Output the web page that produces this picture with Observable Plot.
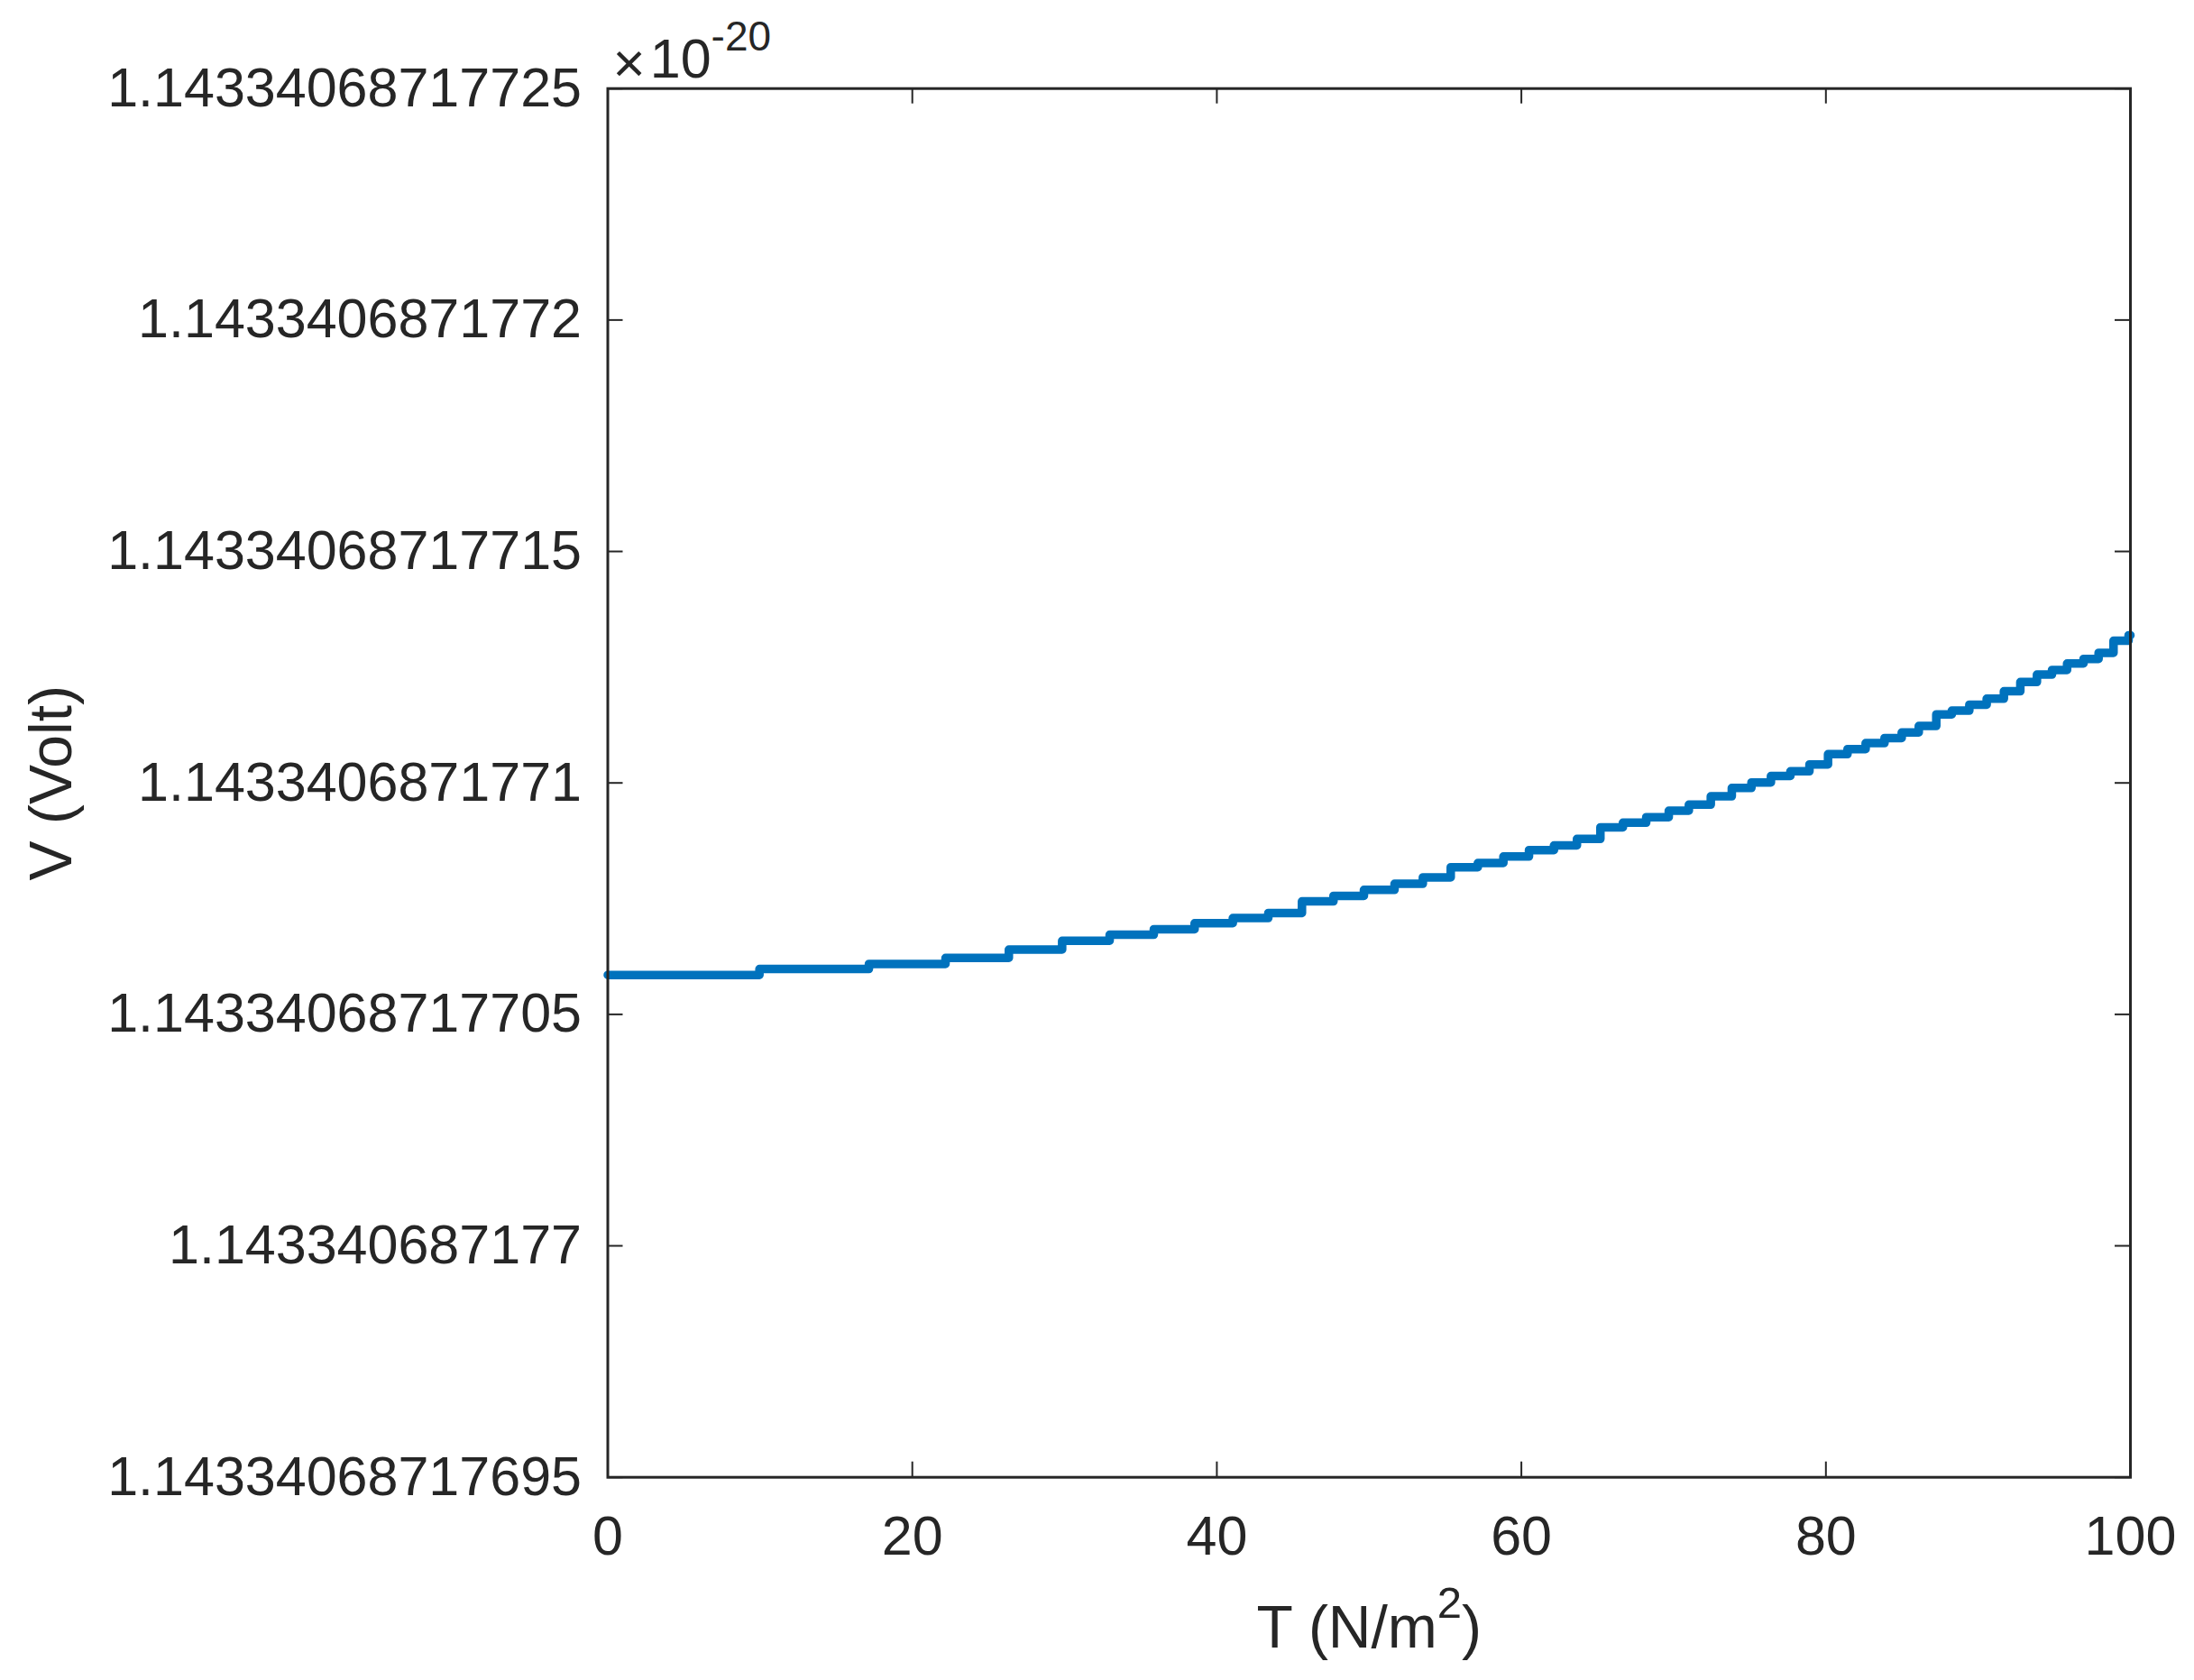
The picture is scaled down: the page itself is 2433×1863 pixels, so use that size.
<!DOCTYPE html>
<html>
<head>
<meta charset="utf-8">
<script src="https://cdn.jsdelivr.net/npm/d3@7"></script>
<script src="https://cdn.jsdelivr.net/npm/@observablehq/plot@0.6"></script>
<style>
  html, body { margin: 0; padding: 0; background: #ffffff; }
  #chart svg { display: block; }
</style>
</head>
<body>
<div id="chart"></div>
<script>
// T (N/m^2) at which each level of the stepped curve begins
const stepT = [
  0, 9.96, 17.15, 22.18, 26.34, 29.84, 32.96, 35.86, 38.54, 41.05,
  43.38, 45.59, 47.66, 49.66, 51.67, 53.53, 55.36, 57.14, 58.82, 60.50,
  62.14, 63.65, 65.19, 66.67, 68.20, 69.68, 71.00, 72.44, 73.82, 75.11,
  76.39, 77.67, 78.92, 80.14, 81.42, 82.61, 83.85, 84.98, 86.10, 87.25,
  88.27, 89.42, 90.56, 91.69, 92.77, 93.86, 94.85, 95.84, 96.92, 97.91,
  98.89, 99.88
];
// V for each level, as offset v where V = 1.14334068717e-20 + v * 1e-34 (Volt)
const stepV = [
  705.85, 705.98, 706.09, 706.22, 706.40, 706.59, 706.72, 706.84, 706.97, 707.08,
  707.19, 707.44, 707.56, 707.69, 707.82, 707.96, 708.18, 708.27, 708.41, 708.55,
  708.65, 708.79, 709.04, 709.14, 709.26, 709.40, 709.53, 709.71, 709.89, 710.01,
  710.15, 710.25, 710.40, 710.62, 710.73, 710.86, 710.97, 711.09, 711.23, 711.48,
  711.56, 711.69, 711.82, 711.98, 712.18, 712.34, 712.44, 712.58, 712.68, 712.81,
  713.07, 713.19
];
const tEnd = 100;

const xTicks = [0, 20, 40, 60, 80, 100];
const yTicks = [695, 700, 705, 710, 715, 720, 725];
const yTickLabels = [
  "1.14334068717695",
  "1.143340687177",
  "1.14334068717705",
  "1.1433406871771",
  "1.14334068717715",
  "1.1433406871772",
  "1.14334068717725"
];
const xLabelMain = "T (N/m";
const xLabelSup = "2";
const xLabelEnd = ")";
const yLabel = "V (Volt)";
const exponentTimes = "×";
const exponentBase = "10";
const exponentPower = "-20";

const points = stepT.map((t, i) => ({T: t, v: stepV[i]}));
points.push({T: tEnd, v: stepV[stepV.length - 1]});

const W = 2433, H = 1863;
const mL = 673.5, mR = 71, mT = 97.7, mB = 225.3;
const FW = W - mL - mR, FH = H - mT - mB;
const tickLen = 17;
const ink = "#262626";

const chart = Plot.plot({
  width: W,
  height: H,
  marginLeft: mL,
  marginRight: mR,
  marginTop: mT,
  marginBottom: mB,
  x: {domain: [0, 100]},
  y: {domain: [695, 725]},
  style: {
    fontFamily: "'Liberation Sans', Arial, Helvetica, sans-serif",
    fontSize: "61px",
    color: ink,
    background: "#ffffff"
  },
  marks: [
    Plot.line(points, {
      x: "T", y: "v", curve: "step-after",
      stroke: "#0072BD", strokeWidth: 9.5,
      strokeLinejoin: "round", strokeLinecap: "round"
    }),
    Plot.tickX(xTicks, {x: d => d, insetTop: FH - tickLen, stroke: ink, strokeWidth: 2}),
    Plot.tickX(xTicks, {x: d => d, insetBottom: FH - tickLen, stroke: ink, strokeWidth: 2}),
    Plot.tickY(yTicks, {y: d => d, insetRight: FW - tickLen, stroke: ink, strokeWidth: 2}),
    Plot.tickY(yTicks, {y: d => d, insetLeft: FW - tickLen, stroke: ink, strokeWidth: 2}),
    Plot.frame({stroke: ink, strokeWidth: 3}),
    Plot.axisX({
      ticks: xTicks, tickSize: 0, tickPadding: 42,
      label: xLabelMain + xLabelSup + xLabelEnd, labelAnchor: "center", labelOffset: 189, labelArrow: "none"
    }),
    Plot.axisY({
      ticks: yTicks, tickSize: 0, tickPadding: 29,
      tickFormat: d => yTickLabels[yTicks.indexOf(d)],
      label: yLabel, labelAnchor: "center", labelOffset: 642, labelArrow: "none"
    }),
    Plot.text([exponentTimes + exponentBase], {
      text: d => d, frameAnchor: "top-left", dx: 5.5, dy: -12.7,
      lineAnchor: "bottom", textAnchor: "start", fontSize: 61, fill: ink
    })
  ]
});

document.getElementById("chart").appendChild(chart);

// Superscripts and label sizing
const svg = d3.select(chart);
const xl = svg.select('g[aria-label="x-axis label"] text');
if (!xl.empty()) {
  xl.text(null).attr("font-size", 66);
  xl.append("tspan").text(xLabelMain);
  xl.append("tspan").attr("font-size", 49).attr("dy", -33).text(xLabelSup);
  xl.append("tspan").attr("dy", 33).text(xLabelEnd);
}
const yl = svg.select('g[aria-label="y-axis label"] text');
if (!yl.empty()) {
  yl.attr("font-size", 66);
}
svg.selectAll("text")
  .filter(function () { return this.textContent === exponentTimes + exponentBase; })
  .each(function () {
    const t = d3.select(this);
    t.text(null);
    t.append("tspan").attr("font-size", 62).attr("dy", 5).text(exponentTimes);
    t.append("tspan").attr("dx", 5).attr("dy", -5).text(exponentBase);
    t.append("tspan").attr("font-size", 46).attr("dy", -30).text(exponentPower);
  });
</script>
</body>
</html>
